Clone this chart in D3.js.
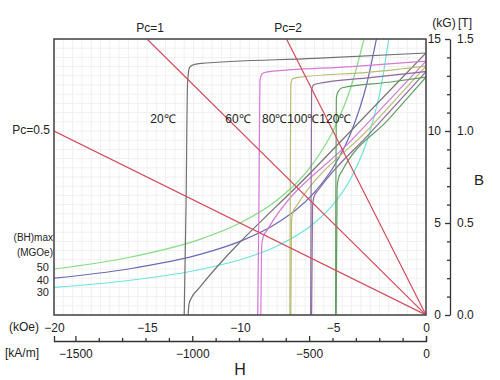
<!DOCTYPE html>
<html><head><meta charset="utf-8">
<script src="https://cdn.jsdelivr.net/npm/d3@7"></script>
<style>
body{margin:0;background:#fff;}
svg text{font-family:"Liberation Sans",Arial,sans-serif;fill:#222;}
</style></head>
<body><svg id="c" width="500" height="380"></svg>
<script>
// ---- data (H in kOe, B/J in kG) ----
const temps = ["20℃","60℃","80℃","100℃","120℃"];
const tempColors = ["#707070","#d77ad6","#b9ba72","#8c6a9c","#5e9e5e"];
// intrinsic (J-H) curves
const j20  = [[-13.0,0],[-12.9,6],[-12.82,12.6],[-12.72,13.45],[-12.5,13.6],[-12.2,13.66],[-6,13.95],[0,14.24]];
const j60  = [[-9.05,0],[-8.98,6],[-8.93,12.7],[-8.82,13.1],[-8.6,13.2],[-4,13.5],[0,13.8]];
const j80  = [[-7.32,0],[-7.3,6],[-7.27,12.5],[-7.18,12.82],[-6.95,12.9],[-3,13.2],[0,13.53]];
const j100 = [[-6.2,0],[-6.18,6],[-6.15,12.2],[-6.05,12.5],[-5.8,12.58],[-3,12.9],[0,13.23]];
const j120 = [[-4.86,0],[-4.85,6],[-4.82,11.8],[-4.72,12.15],[-4.5,12.35],[-2,12.65],[0,12.93]];
// normal (B-H) curves
const b20  = [[-12.79,0],[-12.74,0.6],[-12.6,0.95],[-12.2,1.46],[-6,7.95],[0,14.24]];
const b60  = [[-8.88,0],[-8.83,3.8],[-8.75,4.25],[-8.55,4.6],[-4,9.5],[0,13.8]];
const b80  = [[-7.27,0],[-7.23,5.1],[-7.15,5.62],[-6.95,5.95],[-3,10.2],[0,13.53]];
const b100 = [[-6.15,0],[-6.1,5.9],[-6.02,6.45],[-5.8,6.78],[-3,9.9],[0,13.23]];
const b120 = [[-4.83,0],[-4.78,6.9],[-4.7,7.45],[-4.5,7.85],[-2,10.65],[0,12.93]];
// (BH)max constant-energy curves
const bhLabels = ["50","40","30"];
const bhColors = ["#86dc86","#6a6ab6","#6ee4da"];
const bh50 = [[-20,2.5],[-16,3.125],[-12,4.167],[-10,5],[-8,6.25],[-6,8.333],[-5,10],[-4,12.5],[-3.333,15]];
const bh40 = [[-20,2],[-16,2.5],[-12,3.333],[-10,4],[-8,5],[-6,6.667],[-5,8],[-4,10],[-3.2,12.5],[-2.667,15]];
const bh30 = [[-20,1.5],[-16,1.875],[-12,2.5],[-10,3],[-8,3.75],[-6,5],[-5,6],[-4,7.5],[-3,10],[-2.4,12.5],[-2,15]];
// permeance coefficient load lines
const pcLabels = ["Pc=0.5","Pc=1","Pc=2"];
const pc05 = [[0,0],[-20,10]];
const pc1  = [[0,0],[-15,15]];
const pc2  = [[0,0],[-7.5,15]];
// axis ticks
const kOeTicks = [-20,-15,-10,-5,0];
const kGTicks = [0,5,10,15];
const kGMinor = [1,2,3,4,6,7,8,9,11,12,13,14];
const teslaTicks = [0,0.5,1.0,1.5];
const kAmTicks = [-1500,-1000,-500,0];
const kAmMinor = [-1400,-1300,-1200,-1100,-900,-800,-700,-600,-400,-300,-200,-100];

// ---- drawing ----
const svg = d3.select("#c");
const L=54,R=426,T=39,B=315;
const x = d3.scaleLinear().domain([-20,0]).range([L,R]);
const y = d3.scaleLinear().domain([0,15]).range([B,T]);
const xk = d3.scaleLinear().domain([-20*79.5775,0]).range([L,R]);
const yT = d3.scaleLinear().domain([0,1.5]).range([B,T]);

// grid
const g = svg.append("g");
g.selectAll(".gv").data(d3.range(-19.5,0,0.5)).join("line")
 .attr("x1",d=>x(d)).attr("x2",d=>x(d)).attr("y1",T).attr("y2",B)
 .attr("stroke","#f0f0f0").attr("stroke-width",1);
g.selectAll(".gh").data(d3.range(0.5,15,0.5)).join("line")
 .attr("y1",d=>y(d)).attr("y2",d=>y(d)).attr("x1",L).attr("x2",R)
 .attr("stroke","#f0f0f0").attr("stroke-width",1);

const line = d3.line().x(d=>x(d[0])).y(d=>y(d[1])).curve(d3.curveMonotoneX);
svg.append("clipPath").attr("id","pc").append("rect").attr("x",L).attr("y",T).attr("width",R-L).attr("height",B-T);
const plot = svg.append("g").attr("clip-path","url(#pc)");

[bh50,bh40,bh30].forEach((d,i)=>{
  plot.append("path").attr("d",line(d)).attr("fill","none").attr("stroke",bhColors[i]).attr("stroke-width",1.2);
});
[b20,b60,b80,b100,b120].forEach((d,i)=>{
  plot.append("path").attr("d",line(d)).attr("fill","none").attr("stroke",tempColors[i]).attr("stroke-width",1.2);
});
[j20,j60,j80,j100,j120].forEach((d,i)=>{
  plot.append("path").attr("d",line(d)).attr("fill","none").attr("stroke",tempColors[i]).attr("stroke-width",1.2);
});
const straight = d3.line().x(d=>x(d[0])).y(d=>y(d[1]));
[pc05,pc1,pc2].forEach(d=>{
  plot.append("path").attr("d",straight(d)).attr("fill","none").attr("stroke","#d24b5c").attr("stroke-width",1.2);
});

// frame
svg.append("rect").attr("x",L).attr("y",T).attr("width",R-L).attr("height",B-T)
 .attr("fill","none").attr("stroke","#4a4a4a").attr("stroke-width",1.6);

// bottom kOe labels
const axK = svg.append("g").attr("transform",`translate(0,${B})`)
 .call(d3.axisBottom(x).tickValues(kOeTicks).tickSize(0).tickPadding(8).tickFormat(d3.format("d")));
axK.select(".domain").remove();
axK.selectAll("text").attr("font-size",12).style("font-family","Liberation Sans, Arial").attr("fill","#222");

// kA/m axis
const AY=341;
const axM = svg.append("g").attr("transform",`translate(0,${AY})`)
 .call(d3.axisBottom(xk).tickValues(kAmTicks).tickSizeInner(-5).tickSizeOuter(-5).tickPadding(8).tickFormat(d3.format("d")));
axM.selectAll("text").attr("font-size",12).style("font-family","Liberation Sans, Arial").attr("fill","#222");
axM.selectAll("path,line").attr("stroke","#333").attr("stroke-width",1.3);
const axM2 = svg.append("g").attr("transform",`translate(0,${AY})`)
 .call(d3.axisBottom(xk).tickValues(kAmMinor).tickSizeInner(-3).tickSizeOuter(0).tickFormat(""));
axM2.select(".domain").remove();
axM2.selectAll("line").attr("stroke","#333").attr("stroke-width",1.3);

// right B axis
const AX=450;
const axB = svg.append("g").attr("transform",`translate(${AX},0)`)
 .call(d3.axisLeft(y).tickValues(kGTicks).tickSizeInner(5).tickSizeOuter(0).tickPadding(4).tickFormat(d3.format("d")));
axB.selectAll("text").attr("font-size",12).style("font-family","Liberation Sans, Arial").attr("fill","#222");
axB.selectAll("path,line").attr("stroke","#333").attr("stroke-width",1.3);
const axB2 = svg.append("g").attr("transform",`translate(${AX},0)`)
 .call(d3.axisLeft(y).tickValues(kGMinor).tickSizeInner(3).tickSizeOuter(0).tickFormat(""));
axB2.select(".domain").remove();
axB2.selectAll("line").attr("stroke","#333").attr("stroke-width",1.3);
const axT = svg.append("g").attr("transform",`translate(${AX},0)`)
 .call(d3.axisRight(yT).tickValues(teslaTicks).tickSize(0).tickPadding(7).tickFormat(d3.format(".1f")));
axT.select(".domain").remove();
axT.selectAll("text").attr("font-size",12).style("font-family","Liberation Sans, Arial").attr("fill","#222");

// texts
function txt(s,xx,yy,size,anchor){
  svg.append("text").attr("x",xx).attr("y",yy).attr("font-size",size).attr("text-anchor",anchor||"middle").text(s);
}
txt("(kG)",444,27,12);
txt("[T]",465,27,12);
txt("B",479,185,15);
txt("H",240,375,16);
txt("(kOe)",24,331,12);
txt("[kA/m]",22,357,12);
txt(pcLabels[1],150,32,12);
txt(pcLabels[2],288,32,12);
txt(pcLabels[0],50,134,12,"end");
txt("(BH)max",53,241,10,"end");
txt("(MGOe)",53,256,10,"end");
bhLabels.forEach((s,i)=>txt(s,49,271+i*12.5,11,"end"));
txt(temps[0],163,123,12);
txt(temps[1],238,123,12);
svg.append("text").attr("x",262).attr("y",123).attr("font-size",12).text(temps.slice(2).join(""));
</script></body></html>
